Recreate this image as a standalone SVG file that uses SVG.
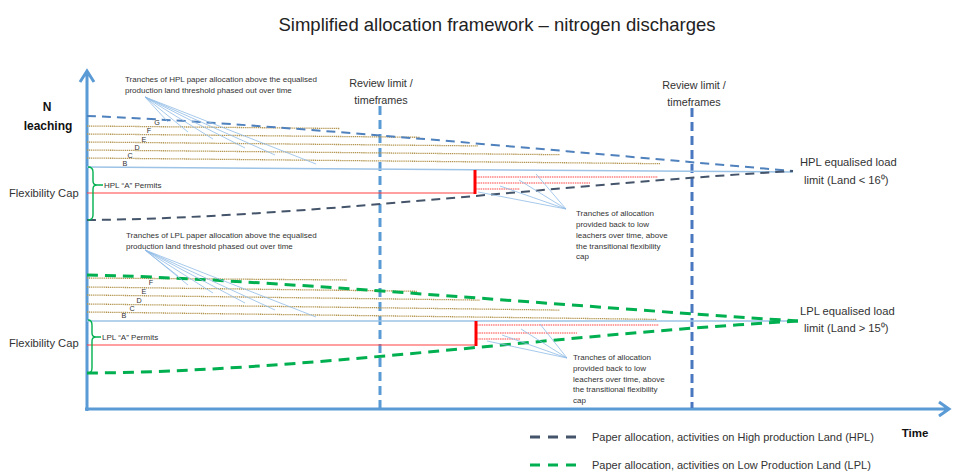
<svg xmlns="http://www.w3.org/2000/svg" width="953" height="473" viewBox="0 0 953 473">
<style>
text{font-family:"Liberation Sans",Arial,sans-serif;fill:#333}
.t{font-size:18.5px;fill:#222}
.lab{font-size:10.8px}
.big{font-size:11.2px}
.leg{font-size:11px}
.sm{font-size:8px}
.let{font-size:7.2px}
.bold{font-weight:bold;fill:#111}
.axis{stroke:#5b9bd5;stroke-width:3;fill:none}
.tan{stroke:#b3954f;stroke-width:1.3;stroke-dasharray:1.2 0.7;fill:none}
.lead{stroke:#8fbbe6;stroke-width:0.8;fill:none}
.redd{stroke:#ff4040;stroke-width:1.2;stroke-dasharray:1.5 0.8;fill:none}
.brace{stroke:#00b050;stroke-width:1.4;fill:none}
.gdash{stroke:#00b050;stroke-width:3;stroke-dasharray:11 7;fill:none}
</style>
<rect width="953" height="473" fill="#fff"/>
<text class="t" x="497" y="31" text-anchor="middle">Simplified allocation framework – nitrogen discharges</text>

<g id="axes">
<path class="axis" d="M87,411 V72 M80,82 L87,71 L94,82"/>
<path class="axis" d="M85,409 H948 M939,402 L949,409 L939,416"/>
<text class="bold" x="47" y="111" font-size="12" text-anchor="middle">N</text>
<text class="bold" x="48" y="130" font-size="12" text-anchor="middle">leaching</text>
<text class="bold" x="915" y="437" font-size="11.5" text-anchor="middle">Time</text>
</g>

<g id="review-limits">
<path d="M380,106 V408" stroke="#5b9bd5" stroke-width="3" stroke-dasharray="9 5" fill="none"/>
<path d="M692,108 V408" stroke="#4a78c0" stroke-width="3" stroke-dasharray="9 5" fill="none"/>
<text class="lab" x="381" y="87" text-anchor="middle">Review limit /</text>
<text class="lab" x="381" y="104" text-anchor="middle">timeframes</text>
<text class="lab" x="694" y="89" text-anchor="middle">Review limit /</text>
<text class="lab" x="694" y="106" text-anchor="middle">timeframes</text>
</g>

<g id="hpl">
<path d="M87,167 L793,172" stroke="#9dc3e6" stroke-width="1.5" fill="none"/>
<path class="tan" d="M87,126 L340,128.5 M87,134 L420,137.3 M87,142 L478,145.9 M87,150 L560,154.7 M87,158 L660,163.7"/>
<path d="M87,116 C250,122 550,150 793,171" stroke="#4f81bd" stroke-width="2" stroke-dasharray="9 6" fill="none"/>
<path d="M87,220 C300,218 550,185 793,171" stroke="#44546a" stroke-width="2" stroke-dasharray="9 6" fill="none"/>
<path d="M87,193 L475,193" stroke="#ff4040" stroke-width="1.2" fill="none"/>
<path d="M475,170 V194" stroke="#ff0000" stroke-width="3" fill="none"/>
<path class="redd" d="M476,177 L658,177 M476,183 L590,183 M476,189 L520,189"/>
<text class="let" x="157" y="125" text-anchor="middle">G</text>
<text class="let" x="149" y="133" text-anchor="middle">F</text>
<text class="let" x="144" y="142" text-anchor="middle">E</text>
<text class="let" x="137" y="150" text-anchor="middle">D</text>
<text class="let" x="130" y="158" text-anchor="middle">C</text>
<text class="let" x="125" y="166" text-anchor="middle">B</text>
<path class="lead" d="M145,97 L168,122 M145,97 L188,132 M145,97 L213,139 M145,97 L245,148 M145,97 L275,155 M145,97 L316,164"/>
<text class="sm" x="125" y="82">Tranches of HPL paper allocation above the equalised</text>
<text class="sm" x="125" y="93">production land threshold phased out over time</text>
<path class="lead" d="M566,209 L478,192 M566,209 L500,186 M566,209 L519,180 M566,209 L536,174"/>
<text class="sm" x="576" y="216">Tranches of allocation</text>
<text class="sm" x="576" y="227">provided back to low</text>
<text class="sm" x="576" y="238">leachers over time, above</text>
<text class="sm" x="576" y="249">the transitional flexibility</text>
<text class="sm" x="576" y="259">cap</text>
<path class="brace" d="M88,167 Q93,167 93,172 L93,181 Q93,185 97,185 H103 M97,185 Q93,185 93,189 L93,215 Q93,220 88,220"/>
<text class="sm" x="104" y="188">HPL “A” Permits</text>
<text class="big" x="9" y="197">Flexibility Cap</text>
<text class="big" x="800" y="166">HPL equalised load</text>
<text class="big" x="804" y="184">limit (Land &lt; 16⁰)</text>
</g>

<g id="lpl">
<path d="M87,321 L798,321" stroke="#9dc3e6" stroke-width="1.5" fill="none"/>
<path class="tan" d="M87,278 L347,280 M87,287 L417,291.3 M87,295 L480,300.1 M87,304 L560,310.1 M87,312 L657,319.4"/>
<path class="gdash" d="M87,275 C250,278 550,305 798,321"/>
<path class="gdash" d="M87,373 C300,372 550,335 798,321"/>
<path d="M87,345 L475,345" stroke="#ff4040" stroke-width="1.2" fill="none"/>
<path d="M476,321 V346" stroke="#ff0000" stroke-width="3" fill="none"/>
<path class="redd" d="M477,325 L659,325 M477,333 L577,333 M477,339 L520,339"/>
<text class="let" x="151" y="285" text-anchor="middle">F</text>
<text class="let" x="144" y="294" text-anchor="middle">E</text>
<text class="let" x="139" y="303" text-anchor="middle">D</text>
<text class="let" x="132" y="311" text-anchor="middle">C</text>
<text class="let" x="124" y="318" text-anchor="middle">B</text>
<path class="lead" d="M145,250 L178,276 M145,250 L188,285 M145,250 L213,293 M145,250 L245,303 M145,250 L275,310 M145,250 L316,317"/>
<text class="sm" x="126" y="238">Tranches of LPL paper allocation above the equalised</text>
<text class="sm" x="126" y="249">production land threshold phased out over time</text>
<path class="lead" d="M567,358 L487,341 M567,358 L502,335 M567,358 L521,329 M567,358 L540,324"/>
<text class="sm" x="573" y="360">Tranches of allocation</text>
<text class="sm" x="573" y="371">provided back to low</text>
<text class="sm" x="573" y="382">leachers over time, above</text>
<text class="sm" x="573" y="392">the transitional flexibility</text>
<text class="sm" x="573" y="403">cap</text>
<path class="brace" d="M88,320 Q92,320 92,325 L92,333 Q92,337 96,337 H101 M96,337 Q92,337 92,341 L92,368 Q92,373 88,373"/>
<text class="sm" x="102" y="340">LPL “A” Permits</text>
<text class="big" x="9" y="347">Flexibility Cap</text>
<text class="big" x="800" y="315">LPL equalised load</text>
<text class="big" x="804" y="332">limit (Land &gt; 15⁰)</text>
</g>

<g id="legend">
<path d="M530,437 H578" stroke="#44546a" stroke-width="3" stroke-dasharray="10 8" fill="none"/>
<text class="leg" x="592" y="441">Paper allocation, activities on High production Land (HPL)</text>
<path d="M530,465 H578" stroke="#00b050" stroke-width="3" stroke-dasharray="10 8" fill="none"/>
<text class="leg" x="592" y="469">Paper allocation, activities on Low Production Land (LPL)</text>
</g>
</svg>
